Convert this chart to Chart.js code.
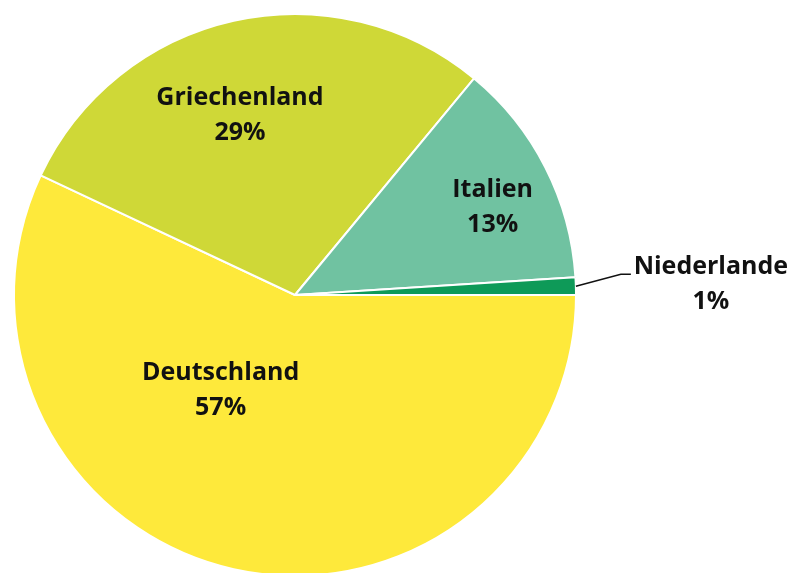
<!DOCTYPE html>
<html>
<head>
<meta charset="utf-8">
<script src="https://cdn.jsdelivr.net/npm/chart.js@4/dist/chart.umd.min.js"></script>
<style>
  html, body { margin: 0; padding: 0; background: #fff; overflow: hidden; }
  #wrap { width: 804px; height: 573px; overflow: hidden; }
</style>
</head>
<body>
<div id="wrap"><canvas id="pie" width="804" height="590"></canvas></div>
<script>
const countries = ["Deutschland", "Griechenland", "Italien", "Niederlande"];
const shares = [57, 29, 13, 1];
const sliceColors = ["#FEE93B", "#CFD837", "#70C2A1", "#0E9A58"];

// label anchor: angle in degrees (clockwise from 3 o'clock), radius as fraction of outer radius
const labelAnchors = [
    { angle: 128, r: 0.43 },
    { angle: 253, r: 0.67 },
    { angle: 336, r: 0.77 },
    { outside: true }
];

const labelPlugin = {
    id: "sliceLabels",
    afterDatasetsDraw(chart) {
        const ctx = chart.ctx;
        const meta = chart.getDatasetMeta(0);
        const first = meta.data[0];
        const cx = first.x, cy = first.y, R = first.outerRadius;
        ctx.save();
        ctx.font = "bold 25px 'Open Sans'";
        ctx.fillStyle = "#111";
        ctx.textAlign = "center";
        ctx.textBaseline = "middle";
        meta.data.forEach((arc, i) => {
            const a = labelAnchors[i];
            let x, y;
            if (a.outside) {
                // leader line from the slice edge
                const mid = (arc.startAngle + arc.endAngle) / 2;
                const ex = cx + Math.cos(mid) * R;
                const ey = cy + Math.sin(mid) * R;
                ctx.strokeStyle = "#111";
                ctx.lineWidth = 1.5;
                ctx.beginPath();
                ctx.moveTo(ex, ey);
                ctx.lineTo(ex + 45, ey - 12);
                ctx.lineTo(ex + 55, ey - 12);
                ctx.stroke();
                x = ex + 135;
                y = ey - 2;
            } else {
                const ang = a.angle * Math.PI / 180;
                x = cx + Math.cos(ang) * R * a.r;
                y = cy + Math.sin(ang) * R * a.r;
            }
            ctx.fillText(countries[i], x, y - 17);
            ctx.fillText(shares[i] + "%", x, y + 18);
        });
        ctx.restore();
    }
};

new Chart(document.getElementById("pie").getContext("2d"), {
    type: "pie",
    data: {
        labels: countries,
        datasets: [{
            data: shares,
            backgroundColor: sliceColors,
            borderColor: "#ffffff",
            borderWidth: 2
        }]
    },
    options: {
        responsive: false,
        animation: false,
        rotation: 90,
        layout: { padding: { left: 13, top: 13, right: 227, bottom: 13 } },
        plugins: {
            legend: { display: false },
            tooltip: { enabled: false }
        }
    },
    plugins: [labelPlugin]
});
</script>
</body>
</html>
